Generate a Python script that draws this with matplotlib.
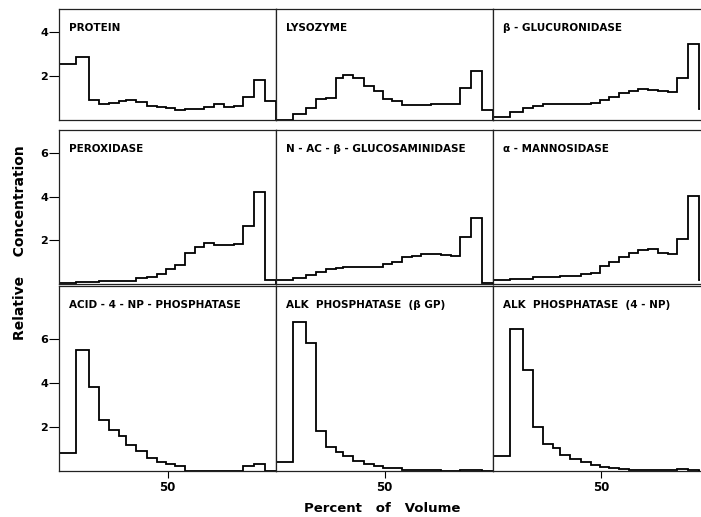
import matplotlib
matplotlib.use("Agg")
import matplotlib.pyplot as plt

# fraction boundaries, percent of gradient volume (shared by all panels)
edges = [0, 8, 14, 18.5, 23, 27.5, 31, 35.5, 40.5, 45, 49.5, 53.5, 58,
         62.5, 67, 71.5, 76, 80.5, 85, 90, 95, 100]

protein = [2.55, 2.86, 0.91, 0.73, 0.79, 0.86, 0.91, 0.82, 0.64, 0.58, 0.53,
           0.45, 0.48, 0.52, 0.58, 0.71, 0.61, 0.64, 1.06, 1.82, 0.88]
lysozyme = [0.0, 0.26, 0.53, 0.95, 1.0, 1.89, 2.07, 1.92, 1.56, 1.33, 0.94,
            0.88, 0.68, 0.68, 0.68, 0.74, 0.74, 0.74, 1.44, 2.23, 0.45]
glucuronidase = [0.15, 0.38, 0.56, 0.64, 0.71, 0.71, 0.71, 0.71, 0.73, 0.76, 0.91,
                 1.06, 1.24, 1.33, 1.41, 1.36, 1.30, 1.26, 1.89, 3.48, 0.5]
peroxidase = [0.05, 0.10, 0.10, 0.15, 0.15, 0.15, 0.15, 0.26, 0.34, 0.44, 0.67,
              0.86, 1.44, 1.69, 1.87, 1.80, 1.79, 1.82, 2.67, 4.23, 0.18]
glucosaminidase = [0.18, 0.26, 0.41, 0.57, 0.69, 0.72, 0.77, 0.77, 0.78, 0.80, 0.90,
                   1.0, 1.23, 1.29, 1.38, 1.38, 1.32, 1.30, 2.15, 3.05, 0.06]
mannosidase = [0.18, 0.23, 0.23, 0.31, 0.31, 0.34, 0.37, 0.37, 0.44, 0.52, 0.83,
               1.0, 1.24, 1.41, 1.56, 1.59, 1.44, 1.38, 2.07, 4.05, 0.2]
acid_np = [0.82, 5.5, 3.8, 2.32, 1.85, 1.57, 1.2, 0.9, 0.58, 0.4, 0.32,
           0.21, 0.0, 0.0, 0.0, 0.0, 0.0, 0.0, 0.21, 0.32, 0.0]
alk_bgp = [0.43, 6.76, 5.82, 1.8, 1.08, 0.85, 0.66, 0.44, 0.32, 0.21, 0.14,
           0.12, 0.05, 0.05, 0.04, 0.03, 0.02, 0.02, 0.03, 0.03, 0.02]
alk_np = [0.67, 6.47, 4.6, 2.0, 1.24, 1.05, 0.73, 0.55, 0.41, 0.27, 0.2,
          0.12, 0.1, 0.05, 0.05, 0.05, 0.03, 0.03, 0.1, 0.05, 0.02]

titles = ["PROTEIN", "LYSOZYME", "β - GLUCURONIDASE",
          "PEROXIDASE", "N - AC - β - GLUCOSAMINIDASE", "α - MANNOSIDASE",
          "ACID - 4 - NP - PHOSPHATASE", "ALK  PHOSPHATASE  (β GP)", "ALK  PHOSPHATASE  (4 - NP)"]
series = [protein, lysozyme, glucuronidase,
          peroxidase, glucosaminidase, mannosidase,
          acid_np, alk_bgp, alk_np]
row_ylim = [5.05, 7.08, 8.4]
row_yticks = [[2, 4], [2, 4, 6], [2, 4, 6]]
col_xmax = [100, 100, 95.4]
xticks = [50]

W, H = 701, 517
fig = plt.figure(figsize=(W / 100, H / 100), dpi=100)

# panel frames in pixels (top-origin)
col_x = [(59, 217), (276, 217), (493, 207)]
row_y = [(9, 111), (130, 154), (286, 185)]

for i, (vals, title) in enumerate(zip(series, titles)):
    r, c = divmod(i, 3)
    x0, w = col_x[c]
    y0, h = row_y[r]
    ax = fig.add_axes([x0 / W, 1 - (y0 + h) / H, w / W, h / H])
    ax.stairs(vals, edges, baseline=0, color="black", lw=1.3)
    ax.set_xlim(0, col_xmax[c])
    ax.set_ylim(0, row_ylim[r])
    for s in ax.spines.values():
        s.set_linewidth(0.9)
        s.set_color("#222222")
    ax.spines["right"].set_visible(c < 2)
    if c == 0:
        ax.set_yticks(row_yticks[r])
        ax.tick_params(axis="y", direction="out", length=7, width=0.8, pad=1, labelsize=8)
        for lab in ax.get_yticklabels():
            lab.set_fontweight("bold")
    else:
        ax.set_yticks([])
    if r == 2:
        ax.set_xticks(xticks)
        ax.tick_params(axis="x", direction="out", length=5, width=0.8, pad=2, labelsize=8.5)
        for lab in ax.get_xticklabels():
            lab.set_fontweight("bold")
    else:
        ax.set_xticks([])
    ax.text(10 / w, 1 - 19 / h, title, transform=ax.transAxes, fontsize=7.5,
            fontweight="bold", ha="left", va="center")

fig.text(382 / W, 1 - 508 / H, "Percent   of   Volume", ha="center", va="center",
         fontsize=9.5, fontweight="bold")
fig.text(20 / W, 1 - 243 / H, "Relative    Concentration", ha="center", va="center",
         rotation=90, fontsize=10, fontweight="bold")

fig.savefig("out.png", dpi=100)
